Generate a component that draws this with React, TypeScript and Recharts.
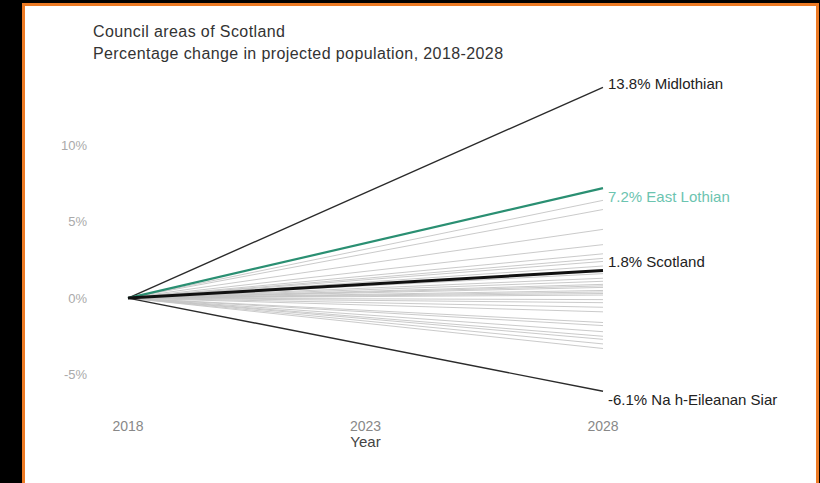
import React from "react";
import { LineChart, Line, XAxis, YAxis, Label } from "recharts";

const years = [2018, 2028];
const yTicks = [-5, 0, 5, 10];
const xTicks = [2018, 2023, 2028];

// percentage change 2018 -> 2028
const areaNames = [
  "Aberdeen City",
  "Aberdeenshire",
  "Angus",
  "Argyll and Bute",
  "City of Edinburgh",
  "Clackmannanshire",
  "Dumfries and Galloway",
  "Dundee City",
  "East Ayrshire",
  "East Dunbartonshire",
  "East Renfrewshire",
  "Falkirk",
  "Fife",
  "Glasgow City",
  "Highland",
  "Inverclyde",
  "Moray",
  "North Ayrshire",
  "North Lanarkshire",
  "Orkney Islands",
  "Perth and Kinross",
  "Renfrewshire",
  "Scottish Borders",
  "Shetland Islands",
  "South Ayrshire",
  "South Lanarkshire",
  "Stirling",
  "West Dunbartonshire",
  "West Lothian",
];
const areaChange = [
  0.7, 1.3, -1.6, -3.3, 6.4, -0.3, -2.7, 0.3, -0.9, 2.1, 5.8, 2.6, 0.9, 3.5,
  0.2, -3.0, 0.8, -2.2, 0.4, 0.5, 1.6, 2.9, -0.1, -0.6, -1.8, 1.1, 2.4, -2.5,
  4.5,
];

const highlightNames = ["Midlothian", "Na h-Eileanan Siar", "East Lothian", "Scotland"];
const highlightChange = [13.8, -6.1, 7.2, 1.8];

const FONT = "'Liberation Sans', Arial, sans-serif";
const ORANGE = "#ec7a24";

const allNames = [...areaNames, ...highlightNames];
const allChange = [...areaChange, ...highlightChange];

const data = years.map((year, i) => {
  const row: Record<string, number> = { year };
  allNames.forEach((name, j) => {
    row[name] = i === 0 ? 0 : allChange[j];
  });
  return row;
});

const endLabel = (text: string, color: string, dy: number) => (props: any) => {
  if (props.index !== years.length - 1) return <g />;
  return (
    <text
      x={props.x + 5}
      y={props.y + dy}
      fill={color}
      fontSize={15}
      fontFamily={FONT}
      dominantBaseline="middle"
    >
      {text}
    </text>
  );
};

const styles: Record<string, { stroke: string; width: number; label: string; dy: number }> = {
  Midlothian: { stroke: "#2b2b2b", width: 1.4, label: "#222", dy: -2 },
  "Na h-Eileanan Siar": { stroke: "#2b2b2b", width: 1.4, label: "#222", dy: 10 },
  "East Lothian": { stroke: "#2a8f72", width: 2.2, label: "#6cc4b0", dy: 10 },
  Scotland: { stroke: "#111", width: 3, label: "#222", dy: -8 },
};

const strip = (left: number, top: number, width: number, height: number, bg: string) => (
  <div style={{ position: "absolute", left, top, width, height, background: bg }} />
);

export default function App() {
  return (
    <div style={{ position: "relative", width: 820, height: 483, background: "#000", overflow: "hidden" }}>
      <style>{"html,body{margin:0;padding:0;background:#fff;}"}</style>
      {strip(22, 3, 797, 483, ORANGE)}
      {strip(25, 6, 791, 483, "#fff")}
      <div style={{ position: "absolute", left: 0, top: 0 }}>
        <LineChart
          width={820}
          height={483}
          data={data}
          margin={{ top: 69, right: 217, left: 28, bottom: 38 }}
        >
          <text x={93} y={33} fontSize={16} letterSpacing={0.4} fontFamily={FONT} fill="#333" dominantBaseline="middle">
            Council areas of Scotland
          </text>
          <text x={93} y={55} fontSize={16} letterSpacing={0.4} fontFamily={FONT} fill="#333" dominantBaseline="middle">
            Percentage change in projected population, 2018-2028
          </text>
          <XAxis
            dataKey="year"
            type="number"
            domain={[2018, 2028]}
            ticks={xTicks}
            height={40}
            axisLine={false}
            tickLine={false}
            tickSize={0}
            tickMargin={16}
            tick={{ fill: "#888", fontSize: 14, fontFamily: FONT }}
          >
            <Label value="Year" position="insideBottom" offset={-2} fill="#444" fontSize={15} fontFamily={FONT} />
          </XAxis>
          <YAxis
            type="number"
            domain={[-7, 15]}
            ticks={yTicks}
            width={100}
            axisLine={false}
            tickLine={false}
            tickSize={0}
            tickMargin={41}
            tickFormatter={(v) => `${v}%`}
            tick={{ fill: "#aaa", fontSize: 13, fontFamily: FONT }}
          />
          {areaNames.map((name) => (
            <Line
              key={name}
              dataKey={name}
              stroke="#c4c4c4"
              strokeWidth={0.9}
              dot={false}
              activeDot={false}
              isAnimationActive={false}
            />
          ))}
          {highlightNames.map((name, i) => {
            const s = styles[name];
            const pct = highlightChange[i].toFixed(1);
            return (
              <Line
                key={name}
                dataKey={name}
                stroke={s.stroke}
                strokeWidth={s.width}
                dot={false}
                activeDot={false}
                isAnimationActive={false}
                label={endLabel(`${pct}% ${name}`, s.label, s.dy)}
              />
            );
          })}
        </LineChart>
      </div>
    </div>
  );
}
